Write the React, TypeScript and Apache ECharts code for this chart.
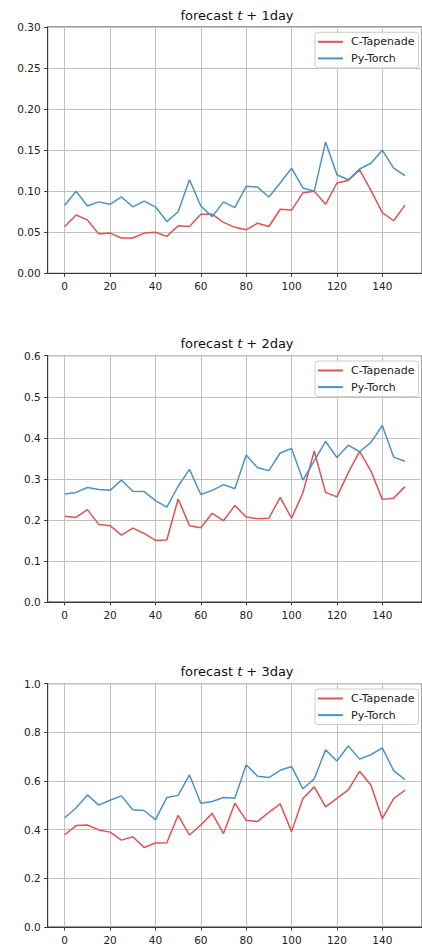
import React, { useEffect, useRef } from "react";
import * as echarts from "echarts";

const steps = [0, 5, 10, 15, 20, 25, 30, 35, 40, 45, 50, 55, 60, 65, 70, 75, 80, 85, 90, 95, 100, 105, 110, 115, 120, 125, 130, 135, 140, 145, 150];
const xTicks = [0, 20, 40, 60, 80, 100, 120, 140];
const seriesNames = ["C-Tapenade", "Py-Torch"];
const horizons = ["1day", "2day", "3day"];

const cTapenade1 = [0.057, 0.071, 0.065, 0.048, 0.049, 0.043, 0.043, 0.049, 0.050, 0.045, 0.058, 0.057, 0.072, 0.072, 0.062, 0.056, 0.053, 0.061, 0.057, 0.078, 0.077, 0.098, 0.100, 0.084, 0.110, 0.113, 0.126, 0.101, 0.074, 0.064, 0.083];
const pyTorch1 = [0.083, 0.100, 0.082, 0.087, 0.084, 0.093, 0.081, 0.088, 0.081, 0.063, 0.075, 0.114, 0.082, 0.069, 0.087, 0.080, 0.106, 0.105, 0.093, 0.110, 0.128, 0.104, 0.100, 0.160, 0.120, 0.114, 0.127, 0.134, 0.150, 0.128, 0.119];

const cTapenade2 = [0.209, 0.206, 0.225, 0.189, 0.186, 0.163, 0.180, 0.167, 0.150, 0.151, 0.251, 0.186, 0.181, 0.216, 0.198, 0.235, 0.207, 0.203, 0.204, 0.255, 0.204, 0.266, 0.368, 0.267, 0.256, 0.315, 0.367, 0.319, 0.250, 0.253, 0.281];
const pyTorch2 = [0.263, 0.267, 0.279, 0.274, 0.272, 0.297, 0.270, 0.269, 0.247, 0.231, 0.282, 0.323, 0.262, 0.272, 0.286, 0.276, 0.358, 0.327, 0.320, 0.363, 0.374, 0.297, 0.344, 0.391, 0.352, 0.382, 0.366, 0.389, 0.430, 0.353, 0.343];

const cTapenade3 = [0.379, 0.417, 0.419, 0.399, 0.390, 0.357, 0.371, 0.327, 0.345, 0.346, 0.459, 0.378, 0.419, 0.467, 0.384, 0.509, 0.438, 0.434, 0.471, 0.506, 0.392, 0.528, 0.576, 0.494, 0.529, 0.564, 0.640, 0.583, 0.445, 0.528, 0.562];
const pyTorch3 = [0.449, 0.489, 0.543, 0.501, 0.521, 0.539, 0.482, 0.479, 0.441, 0.532, 0.541, 0.625, 0.509, 0.516, 0.532, 0.529, 0.667, 0.620, 0.614, 0.644, 0.660, 0.568, 0.609, 0.728, 0.682, 0.744, 0.690, 0.708, 0.736, 0.643, 0.606];

const yMaxes = [0.3, 0.6, 1.0];
const yIntervals = [0.05, 0.1, 0.2];
const yDecimals = [2, 1, 1];

const panels = [
  [cTapenade1, pyTorch1],
  [cTapenade2, pyTorch2],
  [cTapenade3, pyTorch3],
];

const colors = ["#de5253", "#4c92c3"];
const gridTops = [27, 355.7, 683.7];
const gridHeight = 246.3;
const gridLeft = 47.7;
const spineColor = "#3a3a3a";
const gridLineColor = "#c2c2c2";
const font = "DejaVu Sans";

export default function App() {
  const ref = useRef<HTMLDivElement>(null);
  useEffect(() => {
    document.body.style.margin = "0";
    if (!ref.current) return;
    const chart = echarts.init(ref.current, null, { renderer: "svg" });
    const grids = gridTops.map((t) => ({
      left: gridLeft,
      right: -4,
      top: t,
      height: gridHeight,
      show: true,
      borderColor: spineColor,
      borderWidth: 1,
      backgroundColor: "transparent",
      containLabel: false,
    }));
    const xAxes = gridTops.map((_, i) => ({
      type: "value",
      gridIndex: i,
      min: -7.5,
      max: 157.5,
      axisLine: { show: true, onZero: false, lineStyle: { color: spineColor, width: 1 } },
      axisTick: { show: true, customValues: xTicks, length: 3.5, lineStyle: { color: spineColor } },
      axisLabel: { customValues: xTicks, margin: 7, color: "#222", fontSize: 10.5, fontFamily: font },
      splitLine: { show: true, lineStyle: { color: gridLineColor, width: 1 } },
    }));
    const yAxes = gridTops.map((_, i) => ({
      type: "value",
      gridIndex: i,
      min: 0,
      max: yMaxes[i],
      interval: yIntervals[i],
      axisLine: { show: true, onZero: false, lineStyle: { color: spineColor, width: 1 } },
      axisTick: { show: true, length: 3.5, lineStyle: { color: spineColor } },
      axisLabel: {
        margin: 7,
        color: "#222",
        fontSize: 10.5,
        fontFamily: font,
        formatter: (v: number) => v.toFixed(yDecimals[i]),
      },
      splitLine: { show: true, lineStyle: { color: gridLineColor, width: 1 } },
    }));
    const series: any[] = [];
    panels.forEach((pair, i) => {
      pair.forEach((vals, k) => {
        series.push({
          type: "line",
          name: seriesNames[k],
          xAxisIndex: i,
          yAxisIndex: i,
          data: steps.map((s, j) => [s, vals[j]]),
          showSymbol: false,
          symbol: "none",
          color: colors[k],
          lineStyle: { width: 1.5, color: colors[k] },
          z: 3 + k,
        });
      });
    });
    const legends = gridTops.map((t) => ({
      data: seriesNames,
      orient: "vertical",
      left: 315,
      top: t + 5.3,
      padding: [3, 4, 3, 3],
      itemWidth: 25,
      itemHeight: 2,
      itemGap: 3.6,
      icon: "rect",
      selectedMode: false,
      backgroundColor: "rgba(255,255,255,0.85)",
      borderColor: "#cccccc",
      borderWidth: 1,
      borderRadius: 3,
      textStyle: { fontSize: 11, fontFamily: font, color: "#222", lineHeight: 13, padding: [0, 0, 0, 3] },
    }));
    const titleCenters = [15, 343, 671.7];
    const graphics = horizons.map((h, i) => ({
      type: "text",
      x: 237,
      y: titleCenters[i],
      style: {
        text: "{n|forecast }{i|t}{n| + " + h + "}",
        align: "center",
        verticalAlign: "middle",
        rich: {
          n: { fontSize: 13, fontFamily: font, fill: "#111" },
          i: { fontSize: 13, fontFamily: font, fontStyle: "italic", fill: "#111" },
        },
      },
    }));
    chart.setOption({
      animation: false,
      backgroundColor: "#ffffff",
      grid: grids,
      xAxis: xAxes,
      yAxis: yAxes,
      series,
      legend: legends,
      graphic: graphics,
    });
    return () => chart.dispose();
  }, []);
  return <div ref={ref} style={{ width: 422, height: 945 }} />;
}
